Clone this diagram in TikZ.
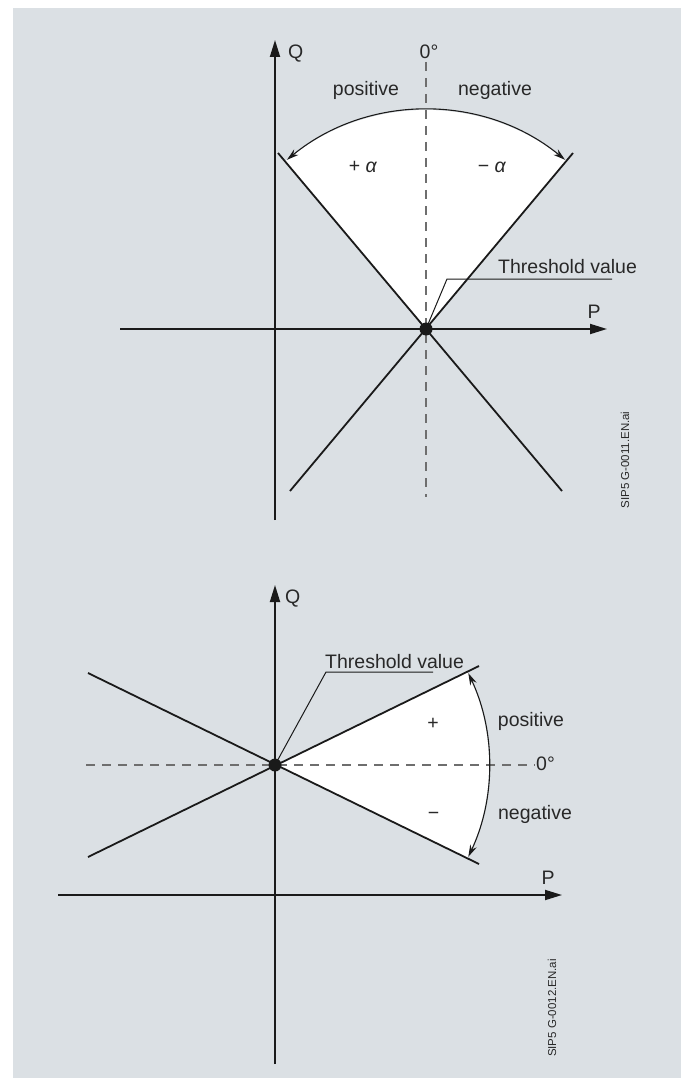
\documentclass[tikz,border=0pt]{standalone}
\usepackage{fontspec}
\setmainfont{Liberation Sans}
\usetikzlibrary{arrows.meta,calc}
\definecolor{bg}{RGB}{219,224,228}
\definecolor{ink}{RGB}{26,26,26}
\definecolor{txt}{RGB}{40,40,40}
\definecolor{dash}{RGB}{110,110,110}
\tikzset{
  axis/.style={line width=1.8pt, draw=ink, -{Triangle[length=17pt,width=10pt]}},
  boundary/.style={line width=1.8pt, draw=ink},
  zeroline/.style={line width=1.4pt, draw=dash, dash pattern=on 9pt off 7pt},
  anglearc/.style={line width=1.1pt, draw=ink, {Stealth[length=12pt,width=7pt]}-{Stealth[length=12pt,width=7pt]}},
  leader/.style={line width=1pt, draw=ink},
  lbl/.style={inner sep=0pt, text=txt, font=\fontsize{19.5}{22}\selectfont, anchor=base},
  filecode/.style={inner sep=0pt, text=txt, font=\fontsize{11.5}{13}\selectfont, rotate=90},
  dotstyle/.style={circle, fill=ink, inner sep=0pt, minimum size=13pt}
}
\begin{document}
\begin{tikzpicture}[x=1pt,y=-1pt]
\useasboundingbox (0,0) rectangle (681,1078);
\fill[bg] (13,8) rectangle (681,1078);

% ---------------- top diagram ----------------
\coordinate (O1) at (426,329);
\fill[white] (O1) -- ++(-130:219) arc (-130:-50:219) -- cycle;
\coordinate (d1a) at (426,62);
\coordinate (d1b) at (426,497);
\draw[zeroline] (d1a) -- (d1b);
\coordinate (l1a) at (278,153);
\coordinate (l1b) at (562,491);
\coordinate (l2a) at (573,153);
\coordinate (l2b) at (290,491);
\draw[boundary] (l1a) -- (l1b);
\draw[boundary] (l2a) -- (l2b);
\draw[anglearc] ($(O1)+(-129.4:219)$) arc (-129.4:-50.6:219);
\coordinate (q1a) at (275,520);
\coordinate (q1b) at (275,40);
\coordinate (p1a) at (120,329);
\coordinate (p1b) at (607,329);
\draw[axis] (q1a) -- (q1b);
\draw[axis] (p1a) -- (p1b);
\node[dotstyle] (dot1) at (O1) {};
\node[lbl, anchor=base west] (Q1) at (288,59) {Q};
\node[lbl] (zero1) at (429,59) {0°};
\node[lbl] (pos1) at (366,96) {positive};
\node[lbl] (neg1) at (495,96) {negative};
\node[lbl] (pa1) at (363,173) {+ \textit{α}};
\node[lbl] (na1) at (492,173) {− \textit{α}};
\node[lbl] (P1) at (594,318) {P};
\node[lbl, anchor=base west] (th1) at (498,273) {Threshold value};
\coordinate (u1a) at (447,279);
\coordinate (u1b) at (612,279);
\draw[leader] (u1b) -- (u1a) -- (O1);
\node[filecode] (code1) at (625,460) {SIP5 G-0011.EN.ai};

% ---------------- bottom diagram ----------------
\coordinate (O2) at (275,765);
\fill[white] (O2) -- ++(-26:214) arc (-26:26:214) -- cycle;
\coordinate (d2a) at (86,765);
\coordinate (d2b) at (535,765);
\draw[zeroline] (d2a) -- (d2b);
\coordinate (m1a) at (88,673);
\coordinate (m1b) at (479,864);
\coordinate (m2a) at (88,857);
\coordinate (m2b) at (479,666);
\draw[boundary] (m1a) -- (m1b);
\draw[boundary] (m2a) -- (m2b);
\draw[anglearc] ($(O2)+(-25.4:214)$) arc (-25.4:25.4:214);
\coordinate (q2a) at (275,1064);
\coordinate (q2b) at (275,585);
\coordinate (p2a) at (58,895);
\coordinate (p2b) at (562,895);
\draw[axis] (q2a) -- (q2b);
\draw[axis] (p2a) -- (p2b);
\node[dotstyle] (dot2) at (O2) {};
\node[lbl, anchor=base west] (Q2) at (285,603) {Q};
\node[lbl, anchor=base west] (zero2) at (536,770) {0°};
\node[lbl] (pos2) at (531,726) {positive};
\node[lbl] (neg2) at (535,819) {negative};
\node[lbl] (plus2) at (433,729) {+};
\node[lbl] (minus2) at (433.5,819) {−};
\node[lbl] (P2) at (548,884) {P};
\node[lbl, anchor=base west] (th2) at (325,668) {Threshold value};
\coordinate (u2a) at (326,672);
\coordinate (u2b) at (433,672);
\draw[leader] (u2b) -- (u2a) -- (O2);
\node[filecode] (code2) at (552,1008) {SIP5 G-0012.EN.ai};
\end{tikzpicture}
\end{document}
